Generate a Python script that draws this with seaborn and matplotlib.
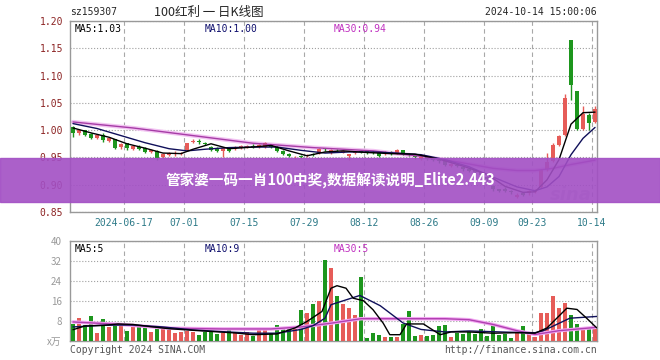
import matplotlib
matplotlib.use('Agg')
from matplotlib import pyplot as plt
from matplotlib.patches import Rectangle
import pandas as pd
import seaborn as sns

# daily K-line of sz159307, 2024-06-03 .. 2024-10-14 (88 trading days)
opens = [1.006, 0.994, 1.000, 0.993, 0.986, 0.992, 0.980, 0.983, 0.969, 0.976,
         0.966, 0.970, 0.968, 0.960, 0.962, 0.951, 0.954, 0.956, 0.956, 0.963,
         0.978, 0.980, 0.977, 0.970, 0.968, 0.961, 0.967, 0.966, 0.968, 0.969,
         0.971, 0.970, 0.969, 0.972, 0.970, 0.962, 0.957, 0.950, 0.953, 0.952,
         0.956, 0.958, 0.966, 0.958, 0.964, 0.959, 0.952, 0.958, 0.962, 0.961,
         0.960, 0.958, 0.957, 0.960, 0.958, 0.963, 0.957, 0.953, 0.948, 0.950,
         0.949, 0.946, 0.944, 0.935, 0.937, 0.932, 0.929, 0.927, 0.923, 0.915,
         0.898, 0.892, 0.893, 0.889, 0.878, 0.884, 0.884, 0.887, 0.896, 0.929,
         0.944, 0.973, 0.991, 1.165, 1.071, 1.002, 1.027, 1.015]
closes = [0.994, 1.001, 0.991, 0.985, 0.991, 0.982, 0.986, 0.968, 0.975, 0.967,
          0.971, 0.966, 0.960, 0.964, 0.949, 0.957, 0.958, 0.958, 0.958, 0.976,
          0.981, 0.979, 0.975, 0.963, 0.962, 0.967, 0.962, 0.969, 0.971, 0.971,
          0.970, 0.972, 0.976, 0.970, 0.962, 0.956, 0.952, 0.951, 0.951, 0.954,
          0.955, 0.966, 0.965, 0.963, 0.963, 0.961, 0.956, 0.960, 0.960, 0.958,
          0.958, 0.953, 0.959, 0.957, 0.963, 0.957, 0.954, 0.950, 0.950, 0.948,
          0.945, 0.943, 0.936, 0.938, 0.934, 0.928, 0.926, 0.924, 0.918, 0.910,
          0.892, 0.889, 0.888, 0.886, 0.882, 0.882, 0.888, 0.890, 0.927, 0.941,
          0.973, 0.989, 1.059, 1.082, 1.002, 1.029, 1.013, 1.038]
highs = [1.008, 1.003, 1.001, 0.995, 0.993, 0.994, 0.988, 0.984, 0.977, 0.977,
         0.973, 0.972, 0.970, 0.966, 0.963, 0.959, 0.960, 0.961, 0.960, 0.977,
         0.983, 0.983, 0.979, 0.971, 0.969, 0.969, 0.968, 0.971, 0.973, 0.973,
         0.974, 0.974, 0.978, 0.974, 0.971, 0.963, 0.958, 0.953, 0.955, 0.956,
         0.958, 0.968, 0.968, 0.965, 0.966, 0.963, 0.957, 0.962, 0.963, 0.962,
         0.961, 0.959, 0.961, 0.961, 0.965, 0.964, 0.958, 0.954, 0.952, 0.951,
         0.950, 0.947, 0.945, 0.940, 0.939, 0.933, 0.930, 0.928, 0.924, 0.916,
         0.900, 0.893, 0.895, 0.890, 0.885, 0.886, 0.890, 0.892, 0.929, 0.958,
         0.977, 0.991, 1.066, 1.165, 1.072, 1.044, 1.032, 1.044]
lows = [0.988, 0.992, 0.989, 0.983, 0.984, 0.978, 0.978, 0.965, 0.966, 0.963,
        0.964, 0.963, 0.958, 0.958, 0.945, 0.949, 0.952, 0.953, 0.954, 0.961,
        0.976, 0.975, 0.972, 0.961, 0.960, 0.951, 0.960, 0.964, 0.966, 0.967,
        0.968, 0.968, 0.967, 0.968, 0.960, 0.954, 0.950, 0.948, 0.949, 0.950,
        0.953, 0.956, 0.962, 0.956, 0.961, 0.958, 0.945, 0.956, 0.958, 0.956,
        0.956, 0.951, 0.955, 0.955, 0.957, 0.955, 0.952, 0.948, 0.946, 0.945,
        0.943, 0.940, 0.934, 0.933, 0.932, 0.925, 0.923, 0.921, 0.915, 0.907,
        0.889, 0.886, 0.886, 0.883, 0.875, 0.880, 0.882, 0.885, 0.894, 0.926,
        0.942, 0.971, 0.990, 1.055, 1.000, 1.000, 1.000, 1.013]
# volume in 万手
volumes = [6.5, 8.9, 6.3, 10.0, 3.2, 8.7, 5.6, 6.3, 6.3, 4.0,
           5.6, 5.6, 5.2, 3.6, 5.2, 5.6, 4.3, 3.2, 3.6, 3.9,
           3.3, 2.3, 3.3, 3.3, 2.5, 3.2, 4.3, 2.9, 2.3, 3.3,
           2.0, 4.3, 4.3, 2.9, 6.3, 4.9, 4.9, 5.2, 12.3, 10.9,
           14.7, 16.0, 32.4, 29.2, 18.0, 14.7, 13.2, 10.3, 25.6, 0.9,
           3.2, 2.3, 1.5, 1.5, 1.5, 6.7, 11.9, 1.9, 2.3, 2.0,
           2.3, 5.9, 6.3, 1.6, 3.2, 2.7, 3.6, 2.7, 4.7, 1.9,
           6.3, 2.3, 2.5, 0.9, 3.9, 5.9, 2.9, 1.5, 11.2, 11.2,
           18.0, 13.2, 15.2, 10.3, 6.7, 5.3, 5.3, 4.7]

# moving average lines at sample days
ma5_days = [0, 3, 6, 9, 12, 15, 18, 20, 23, 26, 30, 33, 36, 39, 42, 45, 49, 53,
            57, 61, 65, 69, 72, 75, 77, 79, 81, 83, 85, 87]
ma5_vals = [1.004, 0.995, 0.987, 0.975, 0.967, 0.958, 0.957, 0.965, 0.975, 0.966,
            0.969, 0.972, 0.962, 0.953, 0.960, 0.962, 0.959, 0.957, 0.956, 0.947,
            0.934, 0.919, 0.897, 0.886, 0.887, 0.909, 0.946, 1.011, 1.032, 1.033]
ma10_days = [0, 4, 8, 12, 16, 19, 22, 26, 30, 34, 38, 42, 46, 50, 54, 58, 62, 66,
             70, 74, 77, 79, 81, 83, 85, 87]
ma10_vals = [1.012, 1.003, 0.990, 0.977, 0.966, 0.962, 0.965, 0.968, 0.969, 0.969,
             0.963, 0.958, 0.960, 0.960, 0.958, 0.955, 0.946, 0.933, 0.914, 0.896,
             0.889, 0.896, 0.915, 0.955, 0.985, 1.005]
ma30_days = [0, 10, 20, 30, 40, 50, 58, 64, 70, 74, 77, 80, 83, 87]
ma30_vals = [1.015, 1.004, 0.990, 0.976, 0.968, 0.962, 0.952, 0.942, 0.930, 0.926,
             0.926, 0.930, 0.937, 0.945]

vma5_days = [0, 2, 5, 7.5, 10, 13, 16, 21, 27, 30, 34, 37, 39, 41.5, 43, 44, 45.5,
             46.7, 48.4, 50, 51.7, 52.8, 54.5, 55.6, 58.4, 59.5, 61.2, 63, 66, 70,
             74, 77, 79, 82.3, 84, 85.6, 87.3]
vma5_vals = [4.4, 5.9, 6.1, 6.7, 6.5, 5.6, 4.8, 4.0, 3.1, 2.4, 2.7, 5.1, 7.7, 11.7,
             21.0, 22.0, 21.0, 17.0, 16.0, 12.4, 7.0, 2.4, 2.4, 6.7, 6.7, 5.0, 2.4,
             3.5, 3.5, 3.0, 3.2, 3.0, 5.1, 13.0, 12.5, 9.0, 5.1]
vma10_days = [0, 5, 10, 15, 20, 25, 30, 34, 38, 40, 42, 43, 47.8, 51.2, 55, 58, 62,
              66, 70, 74, 77, 78.4, 82.8, 87.3]
vma10_vals = [5.5, 6.2, 6.3, 5.5, 4.3, 3.6, 3.0, 3.0, 4.5, 6.0, 9.0, 14.4, 18.1,
              14.0, 7.1, 4.5, 3.5, 3.9, 3.6, 3.3, 3.2, 4.0, 9.0, 9.7]
vma30_days = [0, 8, 16, 25, 33, 38, 43, 48, 55, 62, 66, 70, 74, 77, 81, 87]
vma30_vals = [7.5, 6.5, 5.0, 4.7, 4.7, 5.5, 7.0, 8.8, 8.8, 8.8, 8.4, 6.5, 4.0, 2.5,
              4.0, 5.3]

tick_days = [9, 19, 29, 39, 49, 59, 69, 77, 87]
tick_labels = ['2024-06-17', '07-01', '07-15', '07-29', '08-12', '08-26',
               '09-09', '09-23', '10-14']
price_ticks = [0.85, 0.90, 0.95, 1.00, 1.05, 1.10, 1.15, 1.20]
vol_ticks = [0, 8, 16, 24, 32, 40]
vol_labels = ['x万', '8', '16', '24', '32', '40']

df = pd.DataFrame({'open': opens, 'close': closes, 'high': highs,
                   'low': lows, 'vol': volumes})
df['day'] = range(len(df))
df['up'] = df['close'] >= df['open']

RED = '#e65c58'
GREEN = '#1d961d'
colors = [RED if u else GREEN for u in df['up']]

sns.set_style('white')
plt.rcParams['font.family'] = ['DejaVu Sans Mono', 'Noto Sans CJK SC']
cjk = ['Noto Sans CJK SC', 'DejaVu Sans']

fig = plt.figure(figsize=(6.6, 3.6), dpi=100)
ax = fig.add_axes([70 / 660, 1 - 212 / 360, 527 / 660, 191 / 360])
axv = fig.add_axes([70 / 660, 1 - 340.7 / 360, 527 / 660, 100 / 360])

# candles
body = (df['close'] - df['open']).abs().clip(lower=0.0015)
ax.vlines(df['day'], df['low'], df['high'], colors=colors, lw=1, zorder=3)
ax.bar(df['day'], body, bottom=df[['open', 'close']].min(axis=1), width=0.72,
       color=colors, edgecolor='none', linewidth=0, zorder=4)

sns.lineplot(x=ma30_days, y=ma30_vals, ax=ax, color='#f2c4f2', lw=3, zorder=2)
sns.lineplot(x=ma30_days, y=ma30_vals, ax=ax, color='#a63ca6', lw=1, zorder=5)
sns.lineplot(x=ma10_days, y=ma10_vals, ax=ax, color='#10105a', lw=1, zorder=5)
sns.lineplot(x=ma5_days, y=ma5_vals, ax=ax, color='black', lw=1, zorder=5)

# volume
axv.bar(df['day'], df['vol'], width=0.8, color=colors, edgecolor='none',
        linewidth=0, zorder=3)
sns.lineplot(x=vma30_days, y=vma30_vals, ax=axv, color='#f2a6f2', lw=2.5, zorder=4)
sns.lineplot(x=vma30_days, y=vma30_vals, ax=axv, color='#b040b0', lw=1, zorder=5)
sns.lineplot(x=vma10_days, y=vma10_vals, ax=axv, color='#10105a', lw=1, zorder=5)
sns.lineplot(x=vma5_days, y=vma5_vals, ax=axv, color='black', lw=1, zorder=5)

for a in (ax, axv):
    a.set_xlim(-0.5, 87.33)
    for d in tick_days:
        a.axvline(d - 0.5, color='#a8a8a8', lw=0.8, ls=(0, (4, 3)), zorder=1)
    a.yaxis.grid(True, color='#a0a0a0', lw=0.8, ls=':', zorder=1)
    a.tick_params(length=0)
    for s in a.spines.values():
        s.set_color('#999999')
        s.set_linewidth(1)
    a.set_xlabel('')
    a.set_ylabel('')

ax.set_ylim(0.85, 1.20)
ax.set_yticks(price_ticks)
ax.set_yticklabels(['%.2f' % v for v in price_ticks], color='#8c2323', fontsize=7)
ax.set_xticks([d - 0.5 for d in tick_days])
ax.set_xticklabels(tick_labels, color='#2d7a88', fontsize=7)
ax.tick_params(axis='y', pad=5)
ax.tick_params(axis='x', pad=4)

axv.set_ylim(0, 40)
axv.set_yticks(vol_ticks)
axv.set_yticklabels(vol_labels, color='#999999', fontsize=7, family=cjk)
axv.set_xticks([])
axv.tick_params(axis='y', pad=6)

# labels inside plots
ax.text(0.008, 0.985, 'MA5:1.03', transform=ax.transAxes, fontsize=7,
        color='black', va='top')
ax.text(0.256, 0.985, 'MA10:1.00', transform=ax.transAxes, fontsize=7,
        color='#10106e', va='top')
ax.text(0.501, 0.985, 'MA30:0.94', transform=ax.transAxes, fontsize=7,
        color='#c030c0', va='top')
axv.text(0.008, 0.97, 'MA5:5', transform=axv.transAxes, fontsize=7,
         color='black', va='top')
axv.text(0.256, 0.97, 'MA10:9', transform=axv.transAxes, fontsize=7,
         color='#10106e', va='top')
axv.text(0.501, 0.97, 'MA30:5', transform=axv.transAxes, fontsize=7,
         color='#c030c0', va='top')
ax.text(0.95, 0.09, 'sina', transform=ax.transAxes, fontsize=13, color='#d8d8d8',
        family='DejaVu Sans', style='italic', fontweight='bold', ha='center',
        va='center', zorder=2)

# header / footer
fig.text(70 / 660, 1 - 12 / 360, 'sz159307', fontsize=7, va='center')
fig.text(209 / 660, 1 - 12 / 360, '100红利 一 日K线图', fontsize=9, ha='center',
         va='center', family=cjk)
fig.text(597 / 660, 1 - 12 / 360, '2024-10-14 15:00:06', fontsize=7, ha='right',
         va='center')
fig.text(70 / 660, 1 - 350 / 360, 'Copyright 2024 SINA.COM', fontsize=7,
         color='#555555', va='center')
fig.text(597 / 660, 1 - 350 / 360, 'http://finance.sina.com.cn', fontsize=7,
         color='#555555', ha='right', va='center')

# purple banner across the price chart
fig.patches.append(Rectangle((0, 1 - 201.7 / 360), 1, 44 / 360,
                             transform=fig.transFigure, color='#a24fc4',
                             alpha=0.9, zorder=10))
fig.text(0.5, 1 - 180 / 360, '管家婆一码一肖100中奖,数据解读说明_Elite2.443',
         color='white', fontsize=10.5, fontweight='bold', ha='center',
         va='center', family=cjk, zorder=11)

fig.savefig('out.png', dpi=100)
